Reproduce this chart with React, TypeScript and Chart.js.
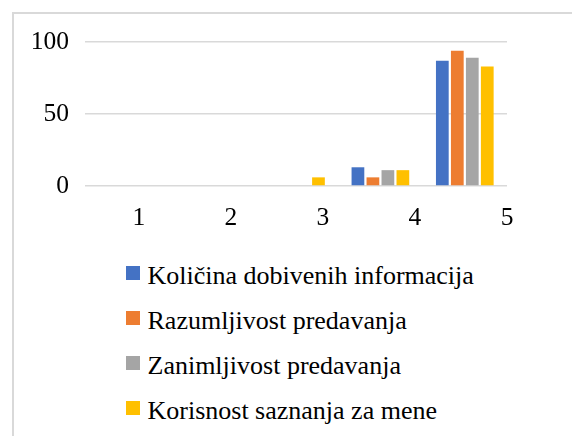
import React, { useEffect, useRef } from "react";
import { Chart, registerables } from "chart.js";

Chart.register(...registerables);

const categories = ["1", "2", "3", "4", "5"];
const seriesNames = [
  "Količina dobivenih informacija",
  "Razumljivost predavanja",
  "Zanimljivost predavanja",
  "Korisnost saznanja za mene",
];
const kolicina = [0, 0, 0, 13, 87];
const razumljivost = [0, 0, 0, 6, 94];
const zanimljivost = [0, 0, 0, 11, 89];
const korisnost = [0, 0, 6, 11, 83];
const yTicks = [0, 50, 100];
const colors = ["#4472C4", "#ED7D31", "#A5A5A5", "#FFC000"];

const FONT = '"Liberation Serif", "Times New Roman", Tinos, "DejaVu Serif", serif';

export default function App() {
  const ref = useRef<HTMLCanvasElement | null>(null);

  useEffect(() => {
    if (!ref.current) return;
    const values = [kolicina, razumljivost, zanimljivost, korisnost];
    const chart = new Chart(ref.current, {
      type: "bar",
      data: {
        labels: categories,
        datasets: seriesNames.map((name, i) => ({
          label: name,
          data: values[i],
          backgroundColor: colors[i],
          borderWidth: 0,
          barPercentage: 0.85,
          categoryPercentage: 0.71,
        })),
      },
      options: {
        animation: false,
        responsive: false,
        devicePixelRatio: 1,
        layout: { padding: { top: 42, left: 32, right: 65, bottom: 9 } },
        plugins: { legend: { display: false }, tooltip: { enabled: false } },
        scales: {
          x: { type: "category", display: false },
          xl: {
            type: "linear",
            position: "bottom",
            offset: false,
            min: 0.415,
            max: 5,
            afterBuildTicks: (s: any) => {
              s.ticks = categories.map((_, i) => ({ value: i + 1 }));
            },
            afterFit: (s: any) => {
              s.height = 45;
            },
            grid: { display: false, drawTicks: false, offset: false },
            border: { display: false },
            ticks: {
              padding: 17,
              color: "#000",
              font: { family: FONT, size: 25.5 },
              maxRotation: 0,
              autoSkip: false,
              callback: (v: any) => categories[Math.round(Number(v)) - 1] ?? "",
            },
          },
          y: {
            min: yTicks[0],
            max: yTicks[yTicks.length - 1],
            afterBuildTicks: (s: any) => {
              s.ticks = yTicks.map((v) => ({ value: v }));
            },
            afterFit: (s: any) => {
              s.width = 53;
            },
            grid: { color: "#d9d9d9", lineWidth: 1.5, drawTicks: false },
            border: { display: false },
            ticks: {
              padding: 16,
              color: "#000",
              font: { family: FONT, size: 25.5 },
            },
          },
        },
      },
    });
    return () => chart.destroy();
  }, []);

  return (
    <div
      style={{
        position: "fixed",
        left: 0,
        top: 0,
        width: 572,
        height: 436,
        overflow: "hidden",
        background: "#fff",
      }}
    >
      <div
        style={{
          position: "absolute",
          left: 12,
          top: 12,
          width: 620,
          height: 480,
          border: "2px solid #d9d9d9",
          boxSizing: "border-box",
        }}
      />
      <canvas
        ref={ref}
        width={572}
        height={240}
        style={{ position: "absolute", left: 0, top: 0, width: 572, height: 240 }}
      />
      <div
        style={{
          position: "absolute",
          left: 126,
          top: 253,
          fontFamily: FONT,
          fontSize: 26,
          color: "#000",
        }}
      >
        {seriesNames.map((name, i) => (
          <div
            key={name}
            style={{ height: 45, lineHeight: "45px", display: "flex", alignItems: "center", whiteSpace: "nowrap" }}
          >
            <span
              style={{
                display: "inline-block",
                width: 14,
                height: 14,
                background: colors[i],
                marginRight: 7.5,
                position: "relative",
                top: -2.5,
              }}
            />
            <span>{name}</span>
          </div>
        ))}
      </div>
    </div>
  );
}
